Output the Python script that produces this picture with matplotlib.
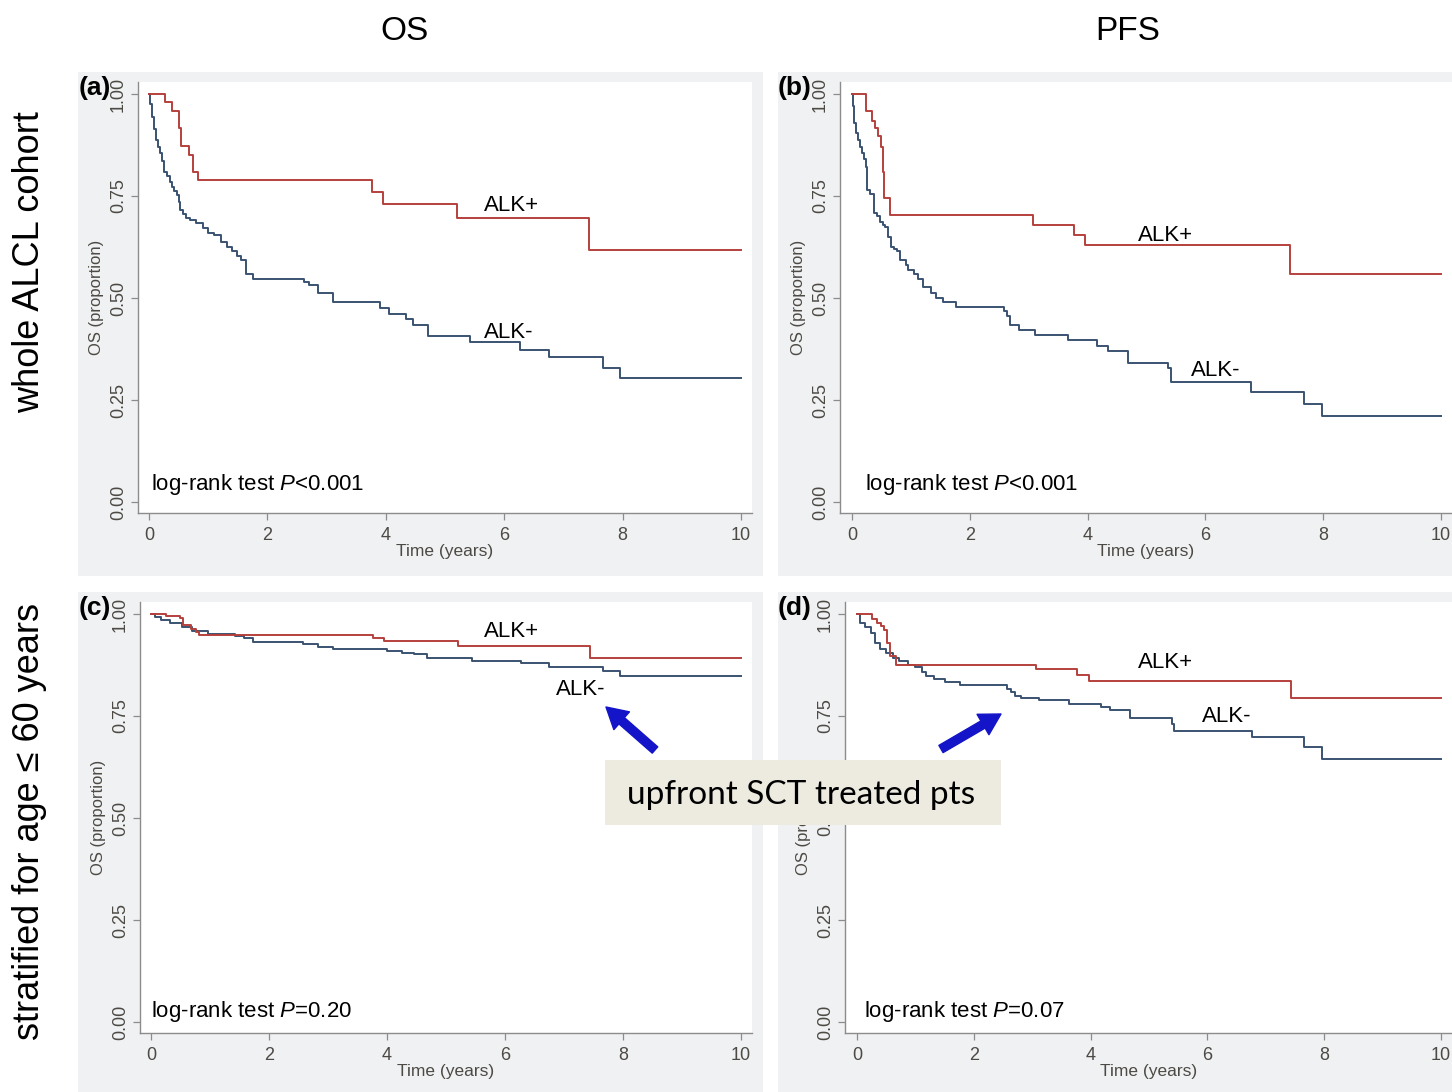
import matplotlib
matplotlib.use("Agg")
import matplotlib.pyplot as plt
from matplotlib.patches import Rectangle, FancyArrowPatch

plt.rcParams['font.family'] = ['Liberation Sans', 'DejaVu Sans']
plt.rcParams['mathtext.fontset'] = 'custom'
plt.rcParams['mathtext.rm'] = 'Liberation Sans'
plt.rcParams['mathtext.it'] = 'Liberation Sans:italic'

W, H = 1452, 1092

# ---- Kaplan-Meier step data: event times (years) and survival after each event ----
# (a) OS, whole cohort
a_pos_t = [0.27, 0.39, 0.51, 0.54, 0.68, 0.75, 0.83, 3.77, 3.95, 5.21, 7.44]
a_pos_s = [0.980, 0.958, 0.916, 0.872, 0.851, 0.809, 0.789, 0.759, 0.731, 0.696, 0.618]
a_neg_t = [0.02, 0.05, 0.08, 0.11, 0.15, 0.18, 0.22, 0.26, 0.30, 0.35, 0.39, 0.43, 0.47,
           0.50, 0.53, 0.57, 0.62, 0.70, 0.80, 0.92, 1.00, 1.10, 1.22, 1.32, 1.41, 1.48,
           1.55, 1.64, 1.75, 2.61, 2.70, 2.86, 3.10, 3.91, 4.06, 4.34, 4.46, 4.71, 5.42,
           6.27, 6.76, 7.67, 7.96]
a_neg_s = [0.975, 0.944, 0.915, 0.887, 0.870, 0.855, 0.835, 0.810, 0.800, 0.785, 0.773, 0.763, 0.753,
           0.735, 0.716, 0.705, 0.696, 0.690, 0.683, 0.671, 0.660, 0.655, 0.638, 0.625, 0.614, 0.603,
           0.592, 0.559, 0.546, 0.538, 0.532, 0.513, 0.489, 0.475, 0.460, 0.448, 0.434, 0.408, 0.391,
           0.373, 0.355, 0.328, 0.305]

# (b) PFS, whole cohort
b_pos_t = [0.24, 0.34, 0.39, 0.44, 0.50, 0.52, 0.55, 0.64, 3.08, 3.77, 3.96, 7.43]
b_pos_s = [0.958, 0.935, 0.916, 0.896, 0.871, 0.808, 0.746, 0.704, 0.679, 0.654, 0.629, 0.558]
b_neg_t = [0.02, 0.04, 0.07, 0.10, 0.13, 0.17, 0.20, 0.23, 0.26, 0.30, 0.37, 0.42, 0.47, 0.52,
           0.56, 0.61, 0.66, 0.72, 0.76, 0.82, 0.91, 0.95, 1.05, 1.12, 1.20, 1.34, 1.43, 1.55,
           1.76, 2.58, 2.63, 2.68, 2.83, 3.10, 3.66, 4.16, 4.34, 4.69, 5.36, 5.41, 6.77, 7.67, 7.98]
b_neg_s = [0.970, 0.928, 0.905, 0.887, 0.870, 0.855, 0.840, 0.822, 0.765, 0.755, 0.708, 0.700, 0.687, 0.680,
           0.675, 0.650, 0.626, 0.620, 0.614, 0.593, 0.581, 0.569, 0.560, 0.546, 0.527, 0.513, 0.500, 0.490,
           0.479, 0.468, 0.455, 0.434, 0.422, 0.410, 0.398, 0.383, 0.369, 0.340, 0.328, 0.294, 0.269, 0.240, 0.210]

# (c) OS, age <= 60
c_pos_t = [0.25, 0.49, 0.55, 0.67, 0.76, 0.82, 3.76, 3.95, 5.21, 7.44]
c_pos_s = [0.995, 0.989, 0.972, 0.964, 0.956, 0.949, 0.940, 0.934, 0.921, 0.891]
c_neg_t = [0.06, 0.17, 0.33, 0.52, 0.70, 0.97, 1.25, 1.42, 1.58, 1.73, 2.58, 2.83, 3.09, 4.00,
           4.26, 4.45, 4.68, 5.44, 6.27, 6.75, 7.66, 7.95]
c_neg_s = [0.993, 0.985, 0.977, 0.969, 0.958, 0.952, 0.950, 0.946, 0.940, 0.932, 0.927, 0.920, 0.915, 0.909,
           0.905, 0.901, 0.891, 0.885, 0.879, 0.871, 0.860, 0.847]

# (d) PFS, age <= 60
d_pos_t = [0.25, 0.35, 0.41, 0.46, 0.51, 0.56, 0.66, 3.07, 3.77, 3.97, 7.44]
d_pos_s = [0.987, 0.979, 0.971, 0.961, 0.930, 0.897, 0.874, 0.864, 0.850, 0.836, 0.794]
d_neg_t = [0.05, 0.13, 0.24, 0.31, 0.39, 0.50, 0.61, 0.72, 0.87, 0.99, 1.11, 1.19, 1.32, 1.51,
           1.77, 2.57, 2.63, 2.70, 2.81, 3.11, 3.63, 4.17, 4.34, 4.68, 5.39, 5.43, 6.77, 7.66, 7.97]
d_neg_s = [0.979, 0.967, 0.954, 0.930, 0.914, 0.905, 0.893, 0.885, 0.874, 0.869, 0.858, 0.848, 0.840, 0.834,
           0.826, 0.816, 0.808, 0.800, 0.795, 0.789, 0.779, 0.771, 0.764, 0.746, 0.730, 0.714, 0.698, 0.673, 0.645]

panel_tags = ["(a)", "(b)", "(c)", "(d)"]
pvalues = ["<0.001", "<0.001", "=0.20", "=0.07"]
col_titles = ["OS", "PFS"]
row_titles = ["whole ALCL cohort", "stratified for age \u2264 60 years"]
x_ticks = [0, 2, 4, 6, 8, 10]
y_ticks = [0.00, 0.25, 0.50, 0.75, 1.00]
y_label = "OS (proportion)"
x_label = "Time (years)"
callout = "upfront SCT treated pts"

RED = "#b5403c"
BLUE = "#3a5272"
PANEL_BG = "#eff1f2"
TICK_C = "#4d4a45"
AXIS_C = "#8c8c8c"
T_MAX = 10.0

fig = plt.figure(figsize=(W / 100, H / 100), dpi=100)
fig.patch.set_facecolor("white")


def fbox(l, t, r, b):
    return [l / W, 1 - b / H, (r - l) / W, (b - t) / H]


def km_xy(times, surv):
    xs = [0.0] + list(times) + [T_MAX]
    ys = [1.0] + list(surv) + [surv[-1]]
    return xs, ys


# layout in pixels: grey frame, plot box, pixel positions of x=0, x=10, y=0, y=1
layouts = [
    dict(frame=(78, 72, 763, 576), box=(138, 82, 752, 513), x0=149, x10=741, y0=502, y1=94),
    dict(frame=(778, 72, 1452, 576), box=(840, 82, 1452, 513), x0=852, x10=1441, y0=502, y1=94),
    dict(frame=(78, 592, 763, 1092), box=(140, 602, 752, 1033), x0=151, x10=741, y0=1022, y1=614),
    dict(frame=(778, 592, 1452, 1092), box=(845, 602, 1452, 1033), x0=857, x10=1441, y0=1022, y1=614),
]
curves = [
    (a_pos_t, a_pos_s, a_neg_t, a_neg_s),
    (b_pos_t, b_pos_s, b_neg_t, b_neg_s),
    (c_pos_t, c_pos_s, c_neg_t, c_neg_s),
    (d_pos_t, d_pos_s, d_neg_t, d_neg_s),
]
# label anchor points in data units: ALK+, ALK-, log-rank text
label_pos = [
    ((5.66, 0.727), (5.66, 0.416), (0.03, 0.042)),
    ((4.86, 0.652), (5.76, 0.322), (0.22, 0.042)),
    ((5.64, 0.958), (6.86, 0.814), (0.0, 0.026)),
    ((4.81, 0.880), (5.91, 0.748), (0.12, 0.026)),
]

for i, lay in enumerate(layouts):
    fl, ft, fr, fb = lay["frame"]
    fig.add_artist(Rectangle((fl / W, 1 - fb / H), (fr - fl) / W, (fb - ft) / H,
                             transform=fig.transFigure, facecolor=PANEL_BG,
                             edgecolor="none", zorder=-5))
    l, t, r, b = lay["box"]
    ax = fig.add_axes(fbox(l, t, r, b))
    ax.set_facecolor("white")
    pxx = (lay["x10"] - lay["x0"]) / 10.0
    pxy = (lay["y0"] - lay["y1"]) / 1.0
    ax.set_xlim((l - lay["x0"]) / pxx, (r - lay["x0"]) / pxx)
    ax.set_ylim((lay["y0"] - b) / pxy, (lay["y0"] - t) / pxy)

    pt, ps, nt, ns = curves[i]
    xs, ys = km_xy(nt, ns)
    ax.step(xs, ys, where="post", color=BLUE, lw=1.4)
    xs, ys = km_xy(pt, ps)
    ax.step(xs, ys, where="post", color=RED, lw=1.4)

    for side in ("top", "right"):
        ax.spines[side].set_visible(False)
    for side in ("left", "bottom"):
        ax.spines[side].set_color(AXIS_C)
        ax.spines[side].set_linewidth(1.0)
    ax.set_xticks(x_ticks)
    ax.set_xticklabels([str(v) for v in x_ticks])
    ax.set_yticks(y_ticks)
    ax.set_yticklabels(["%.2f" % v for v in y_ticks], rotation=90, va="center")
    ax.tick_params(direction="out", length=5, width=0.9, color=AXIS_C,
                   labelcolor=TICK_C, labelsize=13)
    ax.tick_params(axis="x", pad=5)
    ax.tick_params(axis="y", pad=3)
    ax.set_ylabel(y_label, fontsize=12, color=TICK_C)
    ax.yaxis.set_label_coords(-0.056, 0.5)
    ax.set_xlabel(x_label, fontsize=12.5, color=TICK_C)
    ax.xaxis.set_label_coords(0.5, -0.072)

    (px_, py_), (nx_, ny_), (lx_, ly_) = label_pos[i]
    ax.text(px_, py_, "ALK+", fontsize=16, color="black", ha="left", va="center")
    ax.text(nx_, ny_, "ALK-", fontsize=16, color="black", ha="left", va="center")
    ax.text(lx_, ly_, "log-rank test $\\it{P}$" + pvalues[i], fontsize=16,
            color="black", ha="left", va="center")

    fig.text((fl + 17) / W, 1 - (ft + 16) / H, panel_tags[i], fontsize=19,
             fontweight="bold", ha="center", va="center", zorder=5)

# column and row headings
fig.text(405 / W, 1 - 31 / H, col_titles[0], fontsize=24, ha="center", va="center")
fig.text(1128 / W, 1 - 31 / H, col_titles[1], fontsize=24, ha="center", va="center")
fig.text(30 / W, 1 - 262 / H, row_titles[0], fontsize=26, rotation=90,
         ha="center", va="center")
fig.text(30 / W, 1 - 822 / H, row_titles[1], fontsize=26, rotation=90,
         ha="center", va="center")

# overlay: callout box and arrows
ov = fig.add_axes([0, 0, 1, 1], zorder=20)
ov.set_xlim(0, W)
ov.set_ylim(H, 0)
ov.axis("off")
ov.patch.set_alpha(0)
ov.add_patch(Rectangle((605, 760), 396, 65, facecolor="#edeae0", edgecolor="none"))
ov.text(801, 795, callout, fontsize=24, family=["Lato", "DejaVu Sans"],
        ha="center", va="center", color="black")
for tail, head in [((655, 750), (606, 707)), ((941, 749), (1001, 714))]:
    ov.add_patch(FancyArrowPatch(tail, head,
                                 arrowstyle="simple,head_length=1.5,head_width=1.7,tail_width=0.6",
                                 mutation_scale=10, color="#1414c8", shrinkA=0, shrinkB=0))

fig.savefig("out.png", dpi=100)
